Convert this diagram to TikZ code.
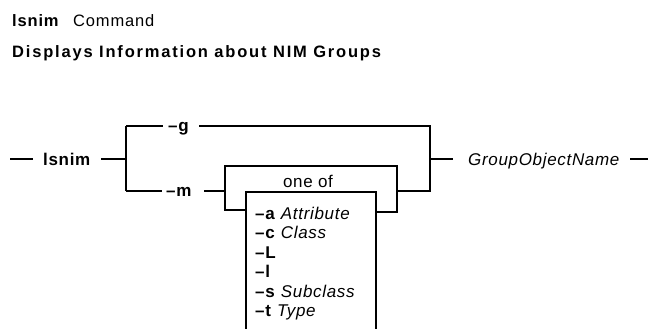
\documentclass[tikz,border=0pt]{standalone}
\usepackage{fontspec}
\setmainfont{Liberation Sans}
\usepackage{tikz}

\tikzset{
  rail/.style={line width=1.4pt, line join=miter},
  frame/.style={line width=2.6pt},
  word/.style={inner sep=0pt, anchor=base west, font=\fontsize{17}{20}\selectfont\addfontfeature{LetterSpace=4}},
  head/.style={inner sep=0pt, anchor=base west, font=\fontsize{16.5}{20}\selectfont\addfontfeature{LetterSpace=5}},
}

\begin{document}
\begin{tikzpicture}[x=1pt,y=-1pt]
\useasboundingbox (0,0) rectangle (648,329);

% heading
\node[head] (name) at (12,27) {\bfseries lsnim};
\node[head] (kind) at (73,27) {Command};
\node[head, font=\fontsize{16.5}{20}\selectfont\bfseries\addfontfeature{LetterSpace=11}] (what) at (12,58) {Displays Information about NIM Groups};

% command and the two flags
\coordinate (in) at (10,159);
\coordinate (in2) at (33,159);
\node[word] (cmd) at (43,165) {\bfseries lsnim};
\coordinate (fork) at (101,159);
\coordinate (split) at (126,159);
\coordinate (gup) at (126,126);
\coordinate (mdn) at (126,191);
\node[word] (g) at (168,131) {\bfseries –g};
\node[word] (m) at (166,196) {\bfseries –m};
\coordinate (gend) at (199,126);
\coordinate (mend) at (204,191);

\draw[rail] (in) -- (in2);
\draw[rail] (fork) -- (split);
\draw[rail] (gup) -- (mdn);
\draw[rail] (gup) -- (163,126);
\draw[rail] (mdn) -- (162,191);

% the g rail runs over to the join
\coordinate (join) at (430,159);
\draw[rail] (gend) -- (430,126) -- (430,191) -- (397,191);

% one of the listed flags
\coordinate (fl) at (225,191);
\coordinate (fr) at (397,166);
\draw[rail] (mend) -- (fl);
\draw[rail] (225,167) -- (225,210) -- (246,210);
\draw[frame, line cap=rect] (225,166) -- (fr);
\draw[rail] (fr) -- (397,212) -- (376,212);
\draw[rail] (246,332) -- (246,192) -- (376,192) -- (376,332);
\node[word, anchor=base] (oneof) at (308,187) {one of};

\foreach \y/\f/\a [count=\i] in {219/a/Attribute, 238.5/c/Class, 258/L/, 277.5/l/, 297/s/Subclass, 316.5/t/Type}
  \node[word] (opt\i) at (255,\y) {\textbf{–\f}\ \textit{\a}};

% object name
\coordinate (out) at (453,159);
\node[word] (obj) at (468,165) {\itshape GroupObjectName};
\coordinate (tail) at (630,159);
\coordinate (tail2) at (648,159);
\draw[rail] (join) -- (out);
\draw[rail] (tail) -- (tail2);

\end{tikzpicture}
\end{document}
